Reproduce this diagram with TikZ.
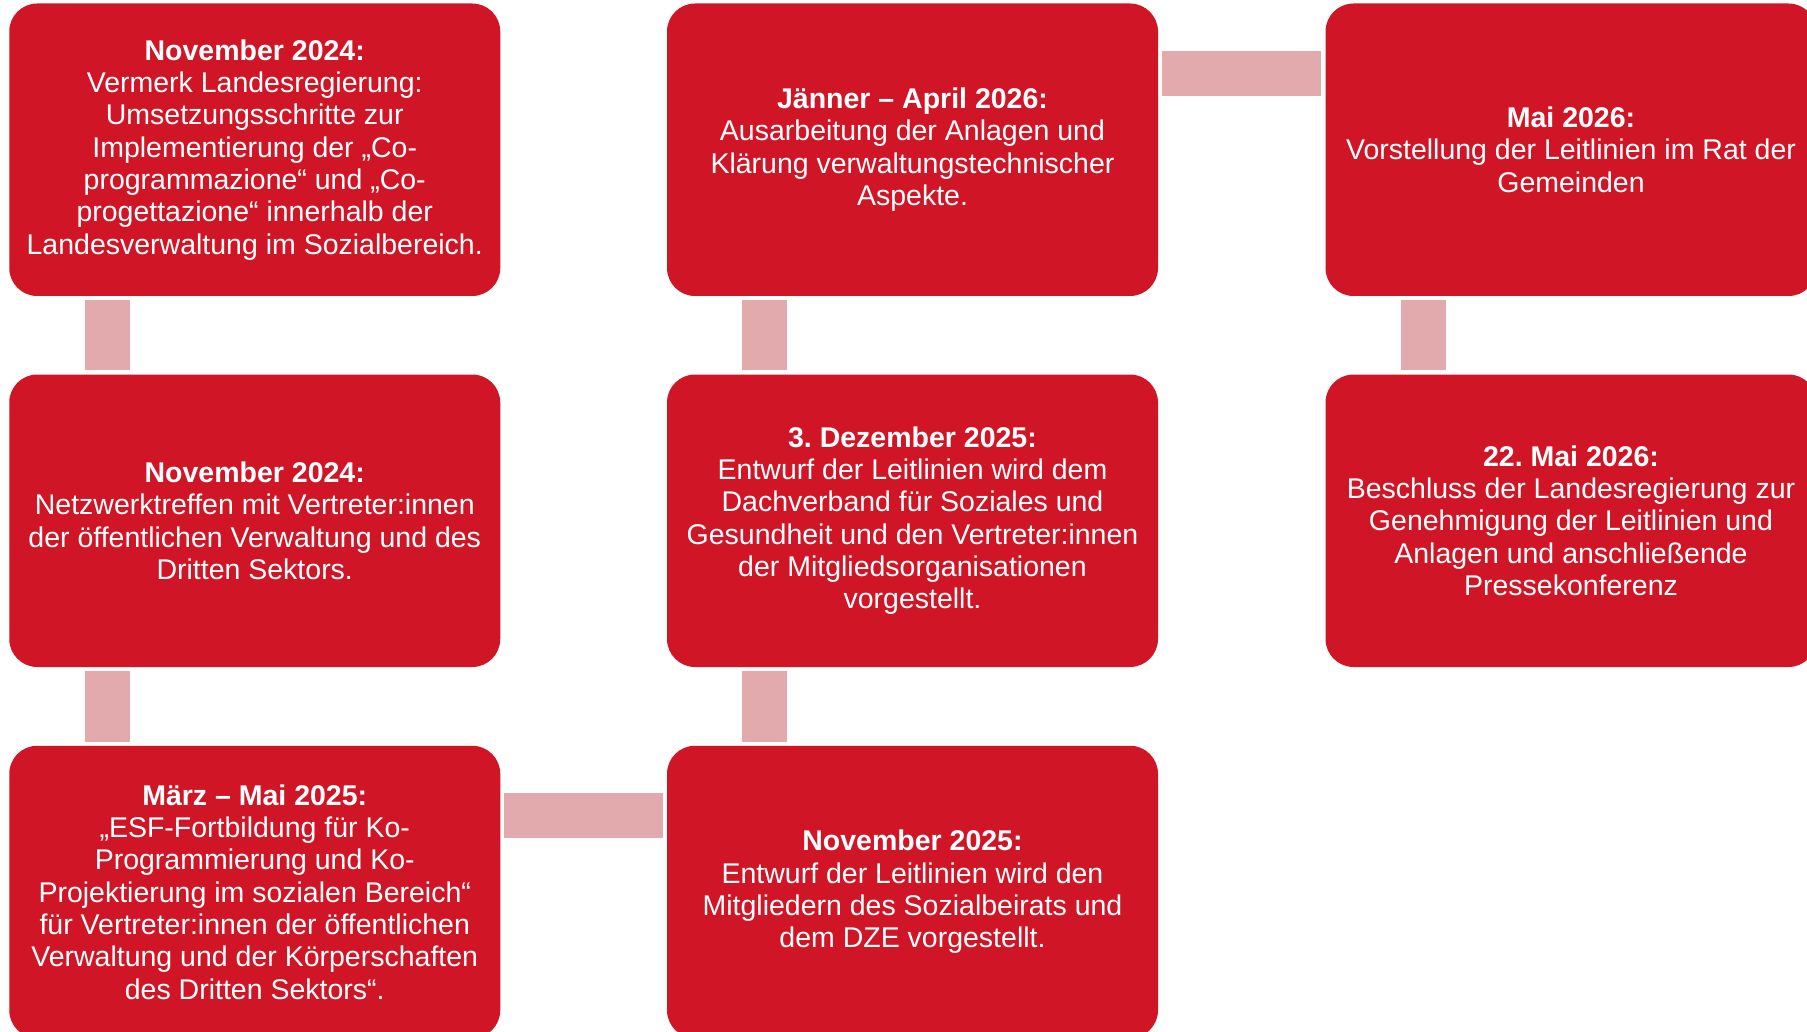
\documentclass[tikz,border=0pt]{standalone}
\usepackage{fontspec}
\setmainfont{Liberation Sans}
\frenchspacing
\definecolor{boxred}{RGB}{208,22,38}
\definecolor{connpink}{RGB}{227,170,173}
\begin{document}
\begin{tikzpicture}[x=1pt,y=-1pt,
  stepbox/.style={rectangle, rounded corners=28pt, fill=boxred, minimum width=491pt, minimum height=292.5pt, inner sep=0pt, align=center, text=white, font=\frenchspacing\fontsize{28.5}{32.3}\selectfont},
  conn/.style={draw=connpink, line width=45pt, line cap=butt}]
\useasboundingbox (0,0) rectangle (1807,1032);
\clip (0,0) rectangle (1807,1032);
\fill[white] (0,0) rectangle (1807,1032);
% column 1
\node[stepbox] (a) at (254.75,149.75) {\textbf{November 2024:}\\Vermerk Landesregierung:\\Umsetzungsschritte zur\\Implementierung der „Co-\\programmazione“ und „Co-\\progettazione“ innerhalb der\\Landesverwaltung im Sozialbereich.};
\node[stepbox] (b) at (254.75,520.75) {\textbf{November 2024:}\\Netzwerktreffen mit Vertreter:innen\\der öffentlichen Verwaltung und des\\Dritten Sektors.};
\node[stepbox] (c) at (254.75,892) {\textbf{März – Mai 2025:}\\„ESF-Fortbildung für Ko-\\Programmierung und Ko-\\Projektierung im sozialen Bereich“\\für Vertreter:innen der öffentlichen\\Verwaltung und der Körperschaften\\des Dritten Sektors“.};
% column 2
\node[stepbox] (d) at (912.5,892) {\textbf{November 2025:}\\Entwurf der Leitlinien wird den\\Mitgliedern des Sozialbeirats und\\dem DZE vorgestellt.};
\node[stepbox] (e) at (912.5,520.75) {\textbf{3. Dezember 2025:}\\Entwurf der Leitlinien wird dem\\Dachverband für Soziales und\\Gesundheit und den Vertreter:innen\\der Mitgliedsorganisationen\\vorgestellt.};
\node[stepbox] (f) at (912.5,149.75) {\textbf{Jänner – April 2026:}\\Ausarbeitung der Anlagen und\\Klärung verwaltungstechnischer\\Aspekte.};
% column 3
\node[stepbox] (g) at (1571,149.75) {\textbf{Mai 2026:}\\Vorstellung der Leitlinien im Rat der\\Gemeinden};
\node[stepbox] (h) at (1571,520.75) {\textbf{22. Mai 2026:}\\Beschluss der Landesregierung zur\\Genehmigung der Leitlinien und\\Anlagen und anschließende\\Pressekonferenz};
% connectors
\draw[conn] ([shift={(98,4)}]a.south west) -- ([shift={(98,-4)}]b.north west);
\draw[conn] ([shift={(98,4)}]b.south west) -- ([shift={(98,-4)}]c.north west);
\draw[conn] ([shift={(4,70)}]c.north east) -- ([shift={(-4,70)}]d.north west);
\draw[conn] ([shift={(98,-4)}]d.north west) -- ([shift={(98,4)}]e.south west);
\draw[conn] ([shift={(98,-4)}]e.north west) -- ([shift={(98,4)}]f.south west);
\draw[conn] ([shift={(4,70)}]f.north east) -- ([shift={(-4,70)}]g.north west);
\draw[conn] ([shift={(98,4)}]g.south west) -- ([shift={(98,-4)}]h.north west);
\end{tikzpicture}
\end{document}
